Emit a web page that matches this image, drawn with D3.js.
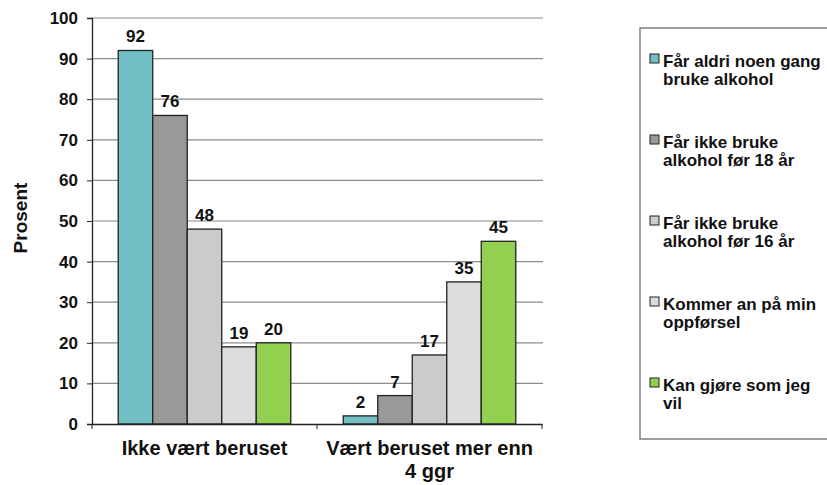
<!DOCTYPE html>
<html lang="no">
<head>
<meta charset="UTF-8">
<title>Prosent</title>
<style>
  body { margin: 0; background: #fff; }
  svg { font-family: "Liberation Sans", Arial, sans-serif; font-weight: bold; }
</style>
</head>
<body>
<svg></svg>
<script src="https://cdn.jsdelivr.net/npm/d3@7"></script>
<script>
  // data
  var categories = [["Ikke vært beruset"], ["Vært beruset mer enn", "4 ggr"]];
  var seriesNames = [
    ["Får aldri noen gang", "bruke alkohol"],
    ["Får ikke bruke", "alkohol før 18 år"],
    ["Får ikke bruke", "alkohol før 16 år"],
    ["Kommer an på min", "oppførsel"],
    ["Kan gjøre som jeg", "vil"]
  ];
  var ikkeBeruset = [92, 76, 48, 19, 20];
  var beruset4ggr = [2, 7, 17, 35, 45];
  var yTicks = [0, 10, 20, 30, 40, 50, 60, 70, 80, 90, 100];
  var colors = ["#72bfc5", "#999999", "#cbcbcb", "#dcdcdc", "#92d050"];

  var values = [ikkeBeruset, beruset4ggr];

  var svg = d3.select("svg").attr("width", 827).attr("height", 485);

  var mLeft = 92, mRight = 542, mTop = 18, mBottom = 424;

  var x0 = d3.scaleBand().domain(d3.range(categories.length)).range([mLeft, mRight]);
  var x1 = d3.scaleBand().domain(d3.range(seriesNames.length))
    .range([0, x0.bandwidth()]).paddingOuter(0.76);
  var y = d3.scaleLinear().domain([0, 100]).range([mBottom, mTop]);

  // grid
  svg.append("g").selectAll("line")
    .data(yTicks.slice(1))
    .join("line")
    .attr("x1", mLeft).attr("x2", mRight + 1)
    .attr("y1", d => y(d)).attr("y2", d => y(d))
    .attr("stroke", "#8c8c8c").attr("stroke-width", 1.2);

  // y axis
  var yAxis = svg.append("g")
    .attr("transform", `translate(${mLeft},0)`)
    .call(d3.axisLeft(y).tickValues(yTicks).tickSize(5).tickPadding(9));
  yAxis.select(".domain").attr("stroke", "#222").attr("stroke-width", 1.3);
  yAxis.selectAll(".tick line").attr("stroke", "#222");
  yAxis.selectAll("text").attr("font-size", "17px").attr("font-family", "Liberation Sans, Arial, sans-serif")
    .attr("font-weight", "bold").attr("fill", "#111");

  // bars
  var groups = svg.append("g").selectAll("g")
    .data(values)
    .join("g")
    .attr("transform", (d, i) => `translate(${x0(i)},0)`);

  groups.selectAll("rect")
    .data(d => d)
    .join("rect")
    .attr("x", (d, i) => x1(i))
    .attr("y", d => y(d))
    .attr("width", x1.bandwidth())
    .attr("height", d => y(0) - y(d))
    .attr("fill", (d, i) => colors[i])
    .attr("stroke", "#222")
    .attr("stroke-width", 1.3);

  groups.selectAll("text")
    .data(d => d)
    .join("text")
    .attr("x", (d, i) => x1(i) + x1.bandwidth() / 2)
    .attr("y", d => y(d) - 8)
    .attr("text-anchor", "middle")
    .attr("font-size", "17px")
    .attr("fill", "#111")
    .text(d => d);

  // x axis
  var xAxis = svg.append("g")
    .attr("transform", `translate(0,${mBottom})`)
    .call(d3.axisBottom(x0).tickSize(0).tickFormat(""));
  xAxis.select(".domain").attr("stroke", "#222").attr("stroke-width", 1.3);
  xAxis.selectAll(".edge")
    .data([mLeft, x0(1), mRight])
    .join("line")
    .attr("x1", d => d).attr("x2", d => d)
    .attr("y1", 0).attr("y2", 5)
    .attr("stroke", "#222");

  svg.append("g").selectAll("text")
    .data(categories)
    .join("text")
    .attr("x", (d, i) => x0(i) + x0.bandwidth() / 2)
    .attr("y", 455)
    .attr("text-anchor", "middle")
    .attr("font-size", "20px")
    .attr("fill", "#111")
    .selectAll("tspan")
    .data(d => d)
    .join("tspan")
    .attr("x", function() { return this.parentNode.getAttribute("x"); })
    .attr("dy", (d, i) => i === 0 ? 0 : 23)
    .text(d => d);

  // y title
  svg.append("text")
    .attr("transform", "translate(27,218) rotate(-90)")
    .attr("text-anchor", "middle")
    .attr("font-size", "19px")
    .attr("fill", "#111")
    .text("Prosent");

  // legend
  var legend = svg.append("g").attr("transform", "translate(640,28)");
  legend.append("path")
    .attr("d", "M830,0H0V411H830")
    .attr("fill", "none")
    .attr("stroke", "#808080")
    .attr("stroke-width", 1.5);

  var item = legend.selectAll("g.item")
    .data(seriesNames)
    .join("g")
    .attr("class", "item")
    .attr("transform", (d, i) => `translate(0,${39 + i * 81})`);

  item.append("rect")
    .attr("x", 10).attr("y", -13)
    .attr("width", 9).attr("height", 9)
    .attr("fill", (d, i) => colors[i])
    .attr("stroke", "#222").attr("stroke-width", 1);

  item.append("text")
    .attr("font-size", "17px")
    .attr("fill", "#111")
    .selectAll("tspan")
    .data(d => d)
    .join("tspan")
    .attr("x", 23)
    .attr("y", (d, i) => i * 18)
    .text(d => d);
</script>
</body>
</html>
